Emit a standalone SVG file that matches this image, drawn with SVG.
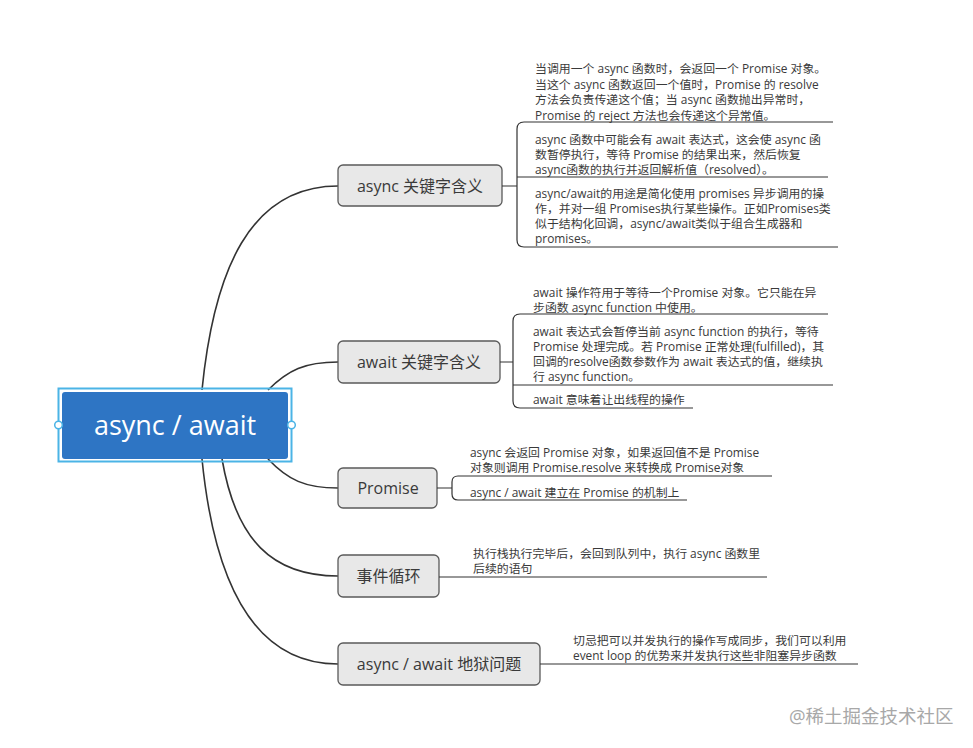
<svg xmlns="http://www.w3.org/2000/svg" width="973" height="748" viewBox="0 0 973 748">
<style>
text{font-family:"Open Sans","Noto Sans CJK SC",sans-serif;fill:#3a3a3a}
.t{font-size:11.9px}
.n{font-size:16px;text-anchor:middle}
.node rect{fill:#e8e8e8;stroke:#5a5a5a;stroke-width:1.3}
.c path{fill:none;stroke:#333;stroke-width:1.6}
.u{fill:none;stroke:#333;stroke-width:1.2}
</style>
<rect width="973" height="748" fill="#fff"/>
<g id="connectors" class="c">
<path d="M202,390 C214,270 250,186 338,186"/>
<path d="M268,390 C288,370 305,362 338,362"/>
<path d="M268,459 C288,480 305,488 338,488"/>
<path d="M222,459 C236,540 272,576 338,576"/>
<path d="M202,459 C214,580 252,664 338,664"/>
</g>
<g id="root">
<rect x="58.5" y="388.5" width="233" height="73" fill="none" stroke="#4bb4e6" stroke-width="2"/>
<rect x="62" y="392" width="226" height="67" rx="3" fill="#2e75c4"/>
<text x="175" y="435" style="font-size:27px;fill:#fff;text-anchor:middle">async / await</text>
<circle cx="58.5" cy="425" r="3.8" fill="#fff" stroke="#4bb4e6" stroke-width="1.5"/>
<circle cx="291.5" cy="425" r="3.8" fill="#fff" stroke="#4bb4e6" stroke-width="1.5"/>
</g>
<g id="n1" class="node">
<rect x="338" y="165" width="164" height="41" rx="5"/>
<text class="n" x="420" y="191.5">async 关键字含义</text>
</g>
<g id="n1-details">
<path class="u" d="M502,186 H517 M833,122 H524 Q517,122 517,129 V240 Q517,247 524,247 H838 M517,177 H828"/>
<text class="t" y="73"><tspan x="535">当调用一个 async 函数时，会返回一个 Promise 对象。</tspan><tspan x="535" dy="15.5">当这个 async 函数返回一个值时，Promise 的 resolve</tspan><tspan x="535" dy="15.5">方法会负责传递这个值；当 async 函数抛出异常时，</tspan><tspan x="535" dy="15.5">Promise 的 reject 方法也会传递这个异常值。</tspan></text>
<text class="t" y="143.5"><tspan x="535">async 函数中可能会有 await 表达式，这会使 async 函</tspan><tspan x="535" dy="15">数暂停执行，等待 Promise  的结果出来，然后恢复</tspan><tspan x="535" dy="15">async函数的执行并返回解析值（resolved）。</tspan></text>
<text class="t" y="197.5"><tspan x="535">async/await的用途是简化使用 promises 异步调用的操</tspan><tspan x="535" dy="15">作，并对一组 Promises执行某些操作。正如Promises类</tspan><tspan x="535" dy="15">似于结构化回调，async/await类似于组合生成器和</tspan><tspan x="535" dy="15.5">promises。</tspan></text>
</g>
<g id="n2" class="node">
<rect x="338" y="341" width="162" height="42" rx="5"/>
<text class="n" x="419" y="367.5">await 关键字含义</text>
</g>
<g id="n2-details">
<path class="u" d="M500,362 H513 M828,314 H520 Q513,314 513,321 V401 Q513,408 520,408 H693 M513,385 H833"/>
<text class="t" y="297"><tspan x="533">await  操作符用于等待一个Promise 对象。它只能在异</tspan><tspan x="533" dy="15">步函数 async function 中使用。</tspan></text>
<text class="t" y="335.5"><tspan x="533">await 表达式会暂停当前 async function 的执行，等待</tspan><tspan x="533" dy="15">Promise 处理完成。若 Promise 正常处理(fulfilled)，其</tspan><tspan x="533" dy="15">回调的resolve函数参数作为 await 表达式的值，继续执</tspan><tspan x="533" dy="15.5">行 async function。</tspan></text>
<text class="t" x="533" y="404">await 意味着让出线程的操作</text>
</g>
<g id="n3" class="node">
<rect x="338" y="468" width="99" height="40" rx="5"/>
<text class="n" x="388" y="493.5">Promise</text>
</g>
<g id="n3-details">
<path class="u" d="M437,488 H452 M772,476 H458 Q452,476 452,482 V494 Q452,500 458,500 H687"/>
<text class="t" y="457"><tspan x="470">async 会返回 Promise 对象，如果返回值不是 Promise</tspan><tspan x="470" dy="15">对象则调用 Promise.resolve 来转换成 Promise对象</tspan></text>
<text class="t" x="470" y="497">async / await 建立在 Promise 的机制上</text>
</g>
<g id="n4" class="node">
<rect x="338" y="555" width="101" height="42" rx="5"/>
<text class="n" x="388.5" y="581.5">事件循环</text>
</g>
<g id="n4-details">
<path class="u" d="M439,577 H767"/>
<text class="t" y="558"><tspan x="473">执行栈执行完毕后，会回到队列中，执行 async 函数里</tspan><tspan x="473" dy="15">后续的语句</tspan></text>
</g>
<g id="n5" class="node">
<rect x="338" y="643" width="202" height="42" rx="5"/>
<text class="n" x="439" y="669.5">async / await 地狱问题</text>
</g>
<g id="n5-details">
<path class="u" d="M540,664 H858"/>
<text class="t" y="645"><tspan x="573">切忌把可以并发执行的操作写成同步，我们可以利用</tspan><tspan x="573" dy="15">event loop 的优势来并发执行这些非阻塞异步函数</tspan></text>
</g>
<text x="789" y="723" style="font-size:18.5px;fill:#a8a8a8">@稀土掘金技术社区</text>
</svg>
